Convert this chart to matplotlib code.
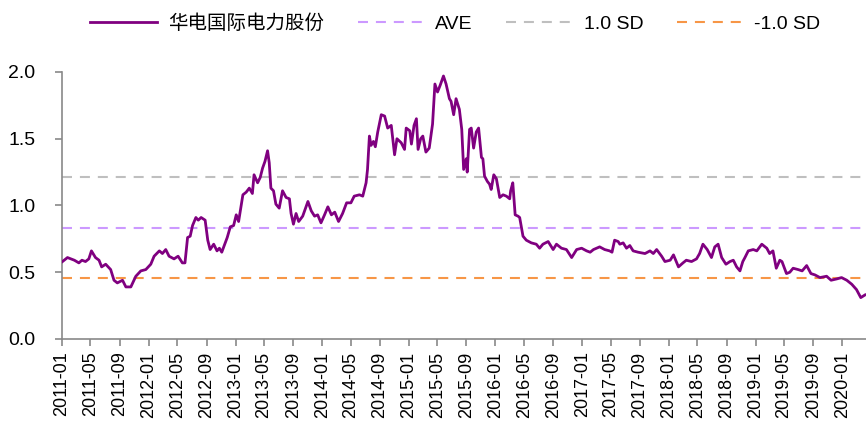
import numpy as np
import pandas as pd
import matplotlib
matplotlib.use("Agg")
import matplotlib.pyplot as plt
import matplotlib.dates as mdates

plt.rcParams['font.family'] = ['Liberation Sans', 'Noto Sans CJK SC', 'DejaVu Sans']

# PB band data
dates = [
    "2011-01-03", "2011-01-24", "2011-02-22", "2011-03-13", "2011-03-26", "2011-04-10", "2011-04-24",
    "2011-05-05", "2011-05-22", "2011-06-06", "2011-06-17", "2011-07-04", "2011-07-25", "2011-08-08",
    "2011-08-22", "2011-09-13", "2011-09-27", "2011-10-18", "2011-11-08", "2011-11-29", "2011-12-20",
    "2012-01-10", "2012-01-24", "2012-02-15", "2012-02-28", "2012-03-13", "2012-03-27", "2012-04-17",
    "2012-05-04", "2012-05-22", "2012-06-02", "2012-06-13", "2012-06-24", "2012-07-04", "2012-07-18",
    "2012-07-28", "2012-08-09", "2012-08-26", "2012-09-06", "2012-09-16", "2012-10-01", "2012-10-15",
    "2012-10-25", "2012-11-04", "2012-11-27", "2012-12-10", "2012-12-24", "2013-01-04", "2013-01-14",
    "2013-02-01", "2013-02-15", "2013-02-28", "2013-03-13", "2013-03-20", "2013-04-04", "2013-04-15",
    "2013-04-25", "2013-05-05", "2013-05-16", "2013-05-23", "2013-05-30", "2013-06-10", "2013-06-20",
    "2013-07-04", "2013-07-18", "2013-08-02", "2013-08-16", "2013-08-23", "2013-09-02", "2013-09-13",
    "2013-09-24", "2013-10-11", "2013-11-02", "2013-11-16", "2013-11-30", "2013-12-13", "2013-12-27",
    "2014-01-11", "2014-01-25", "2014-02-09", "2014-02-23", "2014-03-11", "2014-03-28", "2014-04-14",
    "2014-05-02", "2014-05-16", "2014-06-07", "2014-06-21", "2014-07-05", "2014-07-11", "2014-07-19",
    "2014-07-26", "2014-08-05", "2014-08-13", "2014-08-23", "2014-09-07", "2014-09-21", "2014-10-04",
    "2014-10-19", "2014-11-02", "2014-11-12", "2014-11-30", "2014-12-14", "2014-12-21", "2015-01-05",
    "2015-01-12", "2015-01-23", "2015-02-02", "2015-02-09", "2015-02-20", "2015-03-01", "2015-03-14",
    "2015-03-28", "2015-04-11", "2015-04-21", "2015-05-02", "2015-05-13", "2015-05-27", "2015-06-07",
    "2015-06-21", "2015-06-28", "2015-07-09", "2015-07-19", "2015-08-02", "2015-08-12", "2015-08-20",
    "2015-08-31", "2015-09-04", "2015-09-14", "2015-09-21", "2015-10-01", "2015-10-12", "2015-10-22",
    "2015-11-03", "2015-11-09", "2015-11-16", "2015-11-28", "2015-12-07", "2015-12-14", "2015-12-25",
    "2016-01-05", "2016-01-19", "2016-02-02", "2016-02-16", "2016-03-01", "2016-03-05", "2016-03-14",
    "2016-03-24", "2016-04-05", "2016-04-12", "2016-04-26", "2016-05-10", "2016-05-31", "2016-06-21",
    "2016-07-05", "2016-07-19", "2016-08-10", "2016-08-31", "2016-09-14", "2016-10-05", "2016-10-26",
    "2016-11-17", "2016-12-08", "2016-12-29", "2017-01-19", "2017-02-03", "2017-02-17", "2017-03-15",
    "2017-04-05", "2017-04-26", "2017-05-06", "2017-05-17", "2017-06-01", "2017-06-08", "2017-06-22",
    "2017-07-06", "2017-07-20", "2017-08-03", "2017-08-24", "2017-09-22", "2017-10-13", "2017-10-27",
    "2017-11-10", "2017-12-01", "2017-12-15", "2018-01-06", "2018-01-20", "2018-02-10", "2018-03-01",
    "2018-03-15", "2018-04-06", "2018-04-27", "2018-05-10", "2018-05-24", "2018-06-11", "2018-06-29",
    "2018-07-13", "2018-07-27", "2018-08-11", "2018-08-29", "2018-09-15", "2018-09-29", "2018-10-13",
    "2018-10-27", "2018-11-08", "2018-11-17", "2018-12-01", "2018-12-22", "2019-01-06", "2019-01-27",
    "2019-02-17", "2019-03-01", "2019-03-15", "2019-03-29", "2019-04-13", "2019-04-22", "2019-05-11",
    "2019-05-25", "2019-06-08", "2019-06-29", "2019-07-16", "2019-08-04", "2019-08-22", "2019-09-08",
    "2019-09-29", "2019-10-27", "2019-11-15", "2019-12-09", "2019-12-29", "2020-01-20", "2020-02-10",
    "2020-03-01", "2020-03-19", "2020-04-06",
]
pb = [
    0.58, 0.61, 0.59, 0.57, 0.59, 0.58, 0.60,
    0.66, 0.61, 0.59, 0.54, 0.56, 0.52, 0.44,
    0.42, 0.44, 0.39, 0.39, 0.47, 0.51, 0.52,
    0.56, 0.62, 0.66, 0.64, 0.67, 0.62, 0.60,
    0.62, 0.57, 0.57, 0.76, 0.77, 0.85, 0.91,
    0.89, 0.91, 0.89, 0.74, 0.67, 0.71, 0.66,
    0.68, 0.65, 0.76, 0.84, 0.85, 0.93, 0.88,
    1.08, 1.10, 1.13, 1.09, 1.23, 1.17, 1.21,
    1.28, 1.33, 1.41, 1.32, 1.13, 1.11, 1.01,
    0.98, 1.11, 1.06, 1.05, 0.94, 0.86, 0.94,
    0.88, 0.92, 1.03, 0.96, 0.92, 0.93, 0.87,
    0.93, 0.99, 0.93, 0.95, 0.88, 0.94, 1.02,
    1.02, 1.07, 1.08, 1.07, 1.17, 1.27, 1.52,
    1.45, 1.48, 1.44, 1.55, 1.68, 1.67, 1.58,
    1.60, 1.38, 1.50, 1.47, 1.42, 1.58, 1.56,
    1.46, 1.60, 1.65, 1.42, 1.50, 1.52, 1.40,
    1.43, 1.61, 1.91, 1.85, 1.90, 1.97, 1.91,
    1.80, 1.78, 1.68, 1.80, 1.72, 1.57, 1.27,
    1.35, 1.25, 1.57, 1.58, 1.43, 1.55, 1.58,
    1.36, 1.35, 1.22, 1.18, 1.16, 1.12, 1.23,
    1.20, 1.06, 1.08, 1.07, 1.05, 1.11, 1.17,
    0.93, 0.92, 0.91, 0.77, 0.74, 0.72, 0.71,
    0.68, 0.71, 0.73, 0.67, 0.71, 0.68, 0.67,
    0.61, 0.67, 0.68, 0.66, 0.65, 0.67, 0.69,
    0.67, 0.66, 0.65, 0.74, 0.73, 0.71, 0.72,
    0.68, 0.70, 0.66, 0.65, 0.64, 0.66, 0.64,
    0.67, 0.62, 0.58, 0.59, 0.63, 0.54, 0.57,
    0.59, 0.58, 0.60, 0.64, 0.71, 0.67, 0.61,
    0.69, 0.71, 0.61, 0.56, 0.58, 0.59, 0.54,
    0.51, 0.58, 0.61, 0.66, 0.67, 0.66, 0.71,
    0.68, 0.64, 0.66, 0.53, 0.59, 0.58, 0.49,
    0.50, 0.53, 0.52, 0.51, 0.55, 0.49, 0.48,
    0.46, 0.47, 0.44, 0.45, 0.46, 0.44, 0.41,
    0.37, 0.31, 0.33,
]
ave = 0.835
sd_up = 1.21
sd_dn = 0.459

series_name = "华电国际电力股份"
x_start, x_end = "2011-01-01", "2020-04-10"

d = pd.to_datetime(dates)

fig = plt.figure(figsize=(8.66, 4.25), dpi=100)
ax = fig.add_axes([0.0716, 0.2024, 0.9284, 0.6282])

ax.plot(d, pb, color='#800080', lw=2.0, label=series_name, zorder=5)
dash = (4.8, 3.8)
ax.axhline(ave, color='#CC99FF', lw=1.5, dashes=dash, label='AVE')
ax.axhline(sd_up, color='#BFBFBF', lw=1.5, dashes=dash, label='1.0 SD')
ax.axhline(sd_dn, color='#F79646', lw=1.5, dashes=dash, label='-1.0 SD')

ax.set_xlim(pd.Timestamp(x_start), pd.Timestamp(x_end))
ax.set_ylim(0, 2.0)
ax.set_yticks(np.arange(0, 2.01, 0.5))
ax.yaxis.set_major_formatter(matplotlib.ticker.FormatStrFormatter('%.1f'))

ax.xaxis.set_major_locator(mdates.MonthLocator(bymonth=[1, 5, 9]))
ax.xaxis.set_major_formatter(mdates.DateFormatter('%Y-%m'))
for lab in ax.get_xticklabels():
    lab.set_rotation(90)

for s in ['top', 'right']:
    ax.spines[s].set_visible(False)
for s in ['left', 'bottom']:
    ax.spines[s].set_color('#898989')
    ax.spines[s].set_linewidth(1.2)
ax.tick_params(axis='both', colors='#898989', labelcolor='black', direction='out', length=5, width=1.2)
ax.tick_params(axis='y', labelsize=14, pad=14)
ax.tick_params(axis='x', labelsize=13, pad=4)

fig.legend(loc='center', bbox_to_anchor=(0.526, 0.945), ncol=4, frameon=False,
           fontsize=14, handlelength=3.4, handletextpad=0.57, columnspacing=1.75)

fig.savefig('out.png', dpi=100)
